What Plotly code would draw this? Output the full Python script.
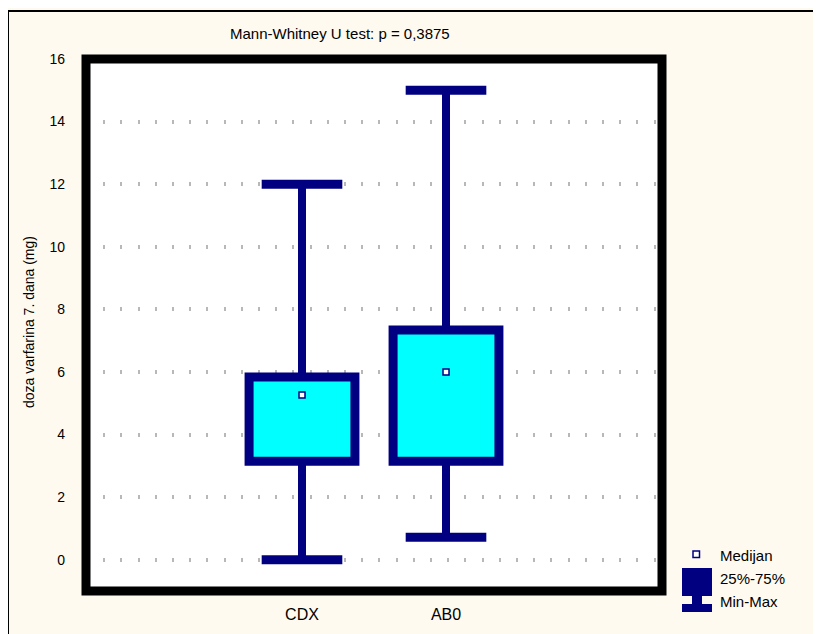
import plotly.graph_objects as go

# ---- data ----
categories = ["CDX", "AB0"]
minimum = [0.0, 0.72]
q1 = [3.15, 3.15]
median = [5.26, 6.0]
q3 = [5.84, 7.34]
maximum = [12.0, 15.0]
y_ticks = [0, 2, 4, 6, 8, 10, 12, 14, 16]
title_text = "Mann-Whitney U test: p = 0,3875"
y_label = "doza varfarina 7. dana (mg)"
legend_labels = ["Medijan", "25%-75%", "Min-Max"]

NAVY = "#000080"
CYAN = "#00FFFF"
BG = "#FFFAF0"
FONT = "Liberation Sans, Arial, sans-serif"

box_w = 0.735
cap_w = 0.56
xpos = list(range(1, len(categories) + 1))

# the page body has an 8px margin; work in window pixels and shift
OFF = 8
W_FIG, H_FIG = 821 - OFF, 634 - OFF
L, R, T, B = 86, 662, 59, 591  # plot area in window pixels


def px2x(px):
    return (px - L) / (R - L)


def py2y(py):
    return (B - py) / (B - T)


fig = go.Figure()

# whiskers
wx, wy = [], []
for x, lo, hi in zip(xpos, minimum, maximum):
    wx += [x, x, None]
    wy += [lo, hi, None]
fig.add_trace(go.Scatter(x=wx, y=wy, mode="lines",
                         line=dict(color=NAVY, width=8), hoverinfo="skip",
                         showlegend=False))

# caps
cx, cy = [], []
for x, lo, hi in zip(xpos, minimum, maximum):
    for v in (lo, hi):
        cx += [x - cap_w / 2, x + cap_w / 2, None]
        cy += [v, v, None]
fig.add_trace(go.Scatter(x=cx, y=cy, mode="lines",
                         line=dict(color=NAVY, width=9), hoverinfo="skip",
                         showlegend=False))

# boxes (path repeats the first edge so every corner gets a join)
for x, a, b in zip(xpos, q1, q3):
    x0, x1 = x - box_w / 2, x + box_w / 2
    fig.add_trace(go.Scatter(
        x=[x0, x1, x1, x0, x0, x1],
        y=[a, a, b, b, a, a], mode="lines", fill="toself", fillcolor=CYAN,
        line=dict(color=NAVY, width=9), hoverinfo="skip", showlegend=False))

# medians
fig.add_trace(go.Scatter(x=xpos, y=median, mode="markers",
                         marker=dict(symbol="square", size=6, color="white",
                                     line=dict(color=NAVY, width=1.5)),
                         showlegend=False))

shapes = []
# plot frame
shapes.append(dict(type="rect", xref="paper", yref="paper", x0=0, x1=1, y0=0, y1=1,
                   line=dict(color="black", width=9), layer="above"))
# outer chart frame (top and left)
shapes.append(dict(type="line", xref="paper", yref="paper",
                   x0=px2x(8), x1=px2x(821), y0=py2y(11), y1=py2y(11),
                   line=dict(color="black", width=2)))
shapes.append(dict(type="line", xref="paper", yref="paper",
                   x0=px2x(8), x1=px2x(8), y0=py2y(10), y1=py2y(634),
                   line=dict(color="black", width=2)))

# legend symbols
shapes.append(dict(type="rect", xref="paper", yref="paper",
                   x0=px2x(693), x1=px2x(699.5), y0=py2y(557.5), y1=py2y(551),
                   fillcolor="white", line=dict(color=NAVY, width=1.5)))
shapes.append(dict(type="rect", xref="paper", yref="paper",
                   x0=px2x(682), x1=px2x(712), y0=py2y(587), y1=py2y(568),
                   fillcolor=NAVY, line=dict(width=0)))
shapes.append(dict(type="rect", xref="paper", yref="paper",
                   x0=px2x(682), x1=px2x(712), y0=py2y(596), y1=py2y(587),
                   fillcolor=NAVY, line=dict(width=0)))
shapes.append(dict(type="rect", xref="paper", yref="paper",
                   x0=px2x(692), x1=px2x(702), y0=py2y(604), y1=py2y(595),
                   fillcolor=NAVY, line=dict(width=0)))
shapes.append(dict(type="rect", xref="paper", yref="paper",
                   x0=px2x(682), x1=px2x(712), y0=py2y(612), y1=py2y(604),
                   fillcolor=NAVY, line=dict(width=0)))

annotations = [
    dict(text=title_text, xref="paper", yref="paper", x=px2x(340), y=py2y(34),
         showarrow=False, xanchor="center", yanchor="middle",
         font=dict(family=FONT, size=15, color="black")),
    dict(text=y_label, xref="paper", yref="paper", x=px2x(29), y=py2y(322),
         showarrow=False, xanchor="center", yanchor="middle", textangle=-90,
         font=dict(family=FONT, size=14, color="black")),
]
for lab, py in zip(legend_labels, [555, 578, 601]):
    annotations.append(dict(text=lab, xref="paper", yref="paper", x=px2x(718), y=py2y(py),
                            showarrow=False, xanchor="left", yanchor="middle",
                            font=dict(family=FONT, size=15, color="black")))

fig.update_layout(
    width=W_FIG, height=H_FIG,
    margin=dict(l=L - OFF, r=821 - R, t=T - OFF, b=634 - B, pad=0),
    paper_bgcolor=BG, plot_bgcolor="white",
    showlegend=False,
    shapes=shapes, annotations=annotations,
    font=dict(family=FONT, color="black"),
)
fig.update_xaxes(range=[-0.5, len(categories) + 1.5], tickmode="array",
                 tickvals=xpos, ticktext=categories, showgrid=False, zeroline=False,
                 showline=False, ticks="", ticklabelstandoff=12,
                 tickfont=dict(family=FONT, size=16, color="black"), fixedrange=True)
fig.update_yaxes(range=[-1, 16], tickmode="array", tickvals=y_ticks,
                 showgrid=True, gridcolor="#b8b8b8", gridwidth=4, griddash="2px,15.2px",
                 zeroline=False, showline=False, ticks="", ticklabelstandoff=20,
                 tickfont=dict(family=FONT, size=14, color="black"), fixedrange=True)

fig.write_html("out.html")
